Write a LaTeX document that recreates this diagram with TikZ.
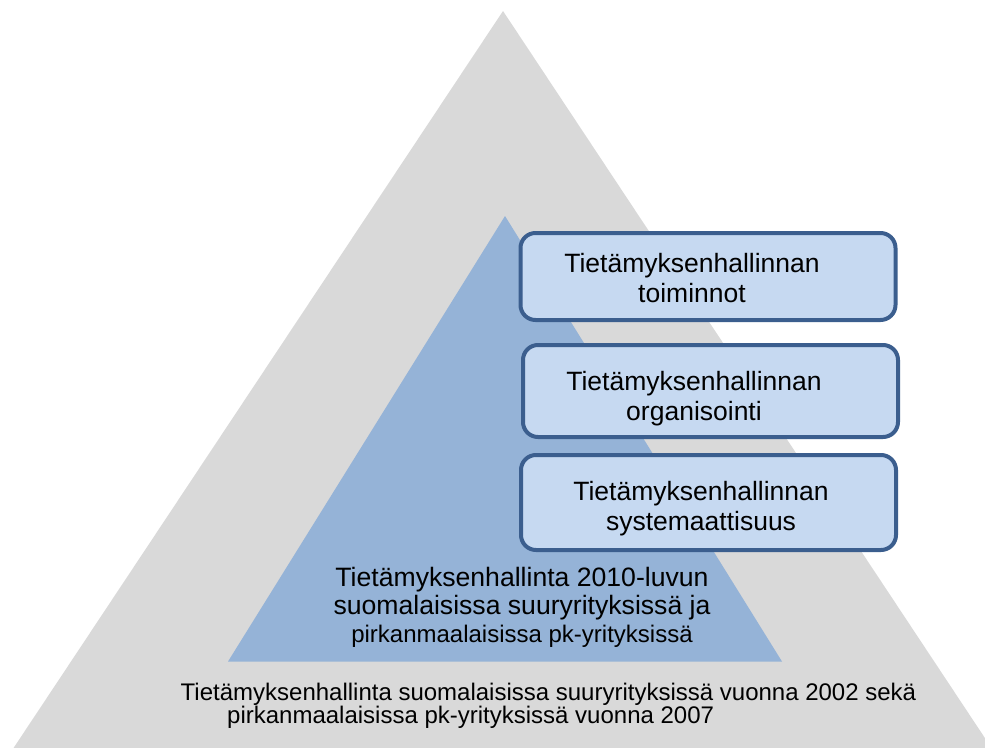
\documentclass[tikz,border=0pt]{standalone}
\usepackage{fontspec}
\setmainfont{Liberation Sans}

\definecolor{pyramidGray}{HTML}{D9D9D9}
\definecolor{pyramidBlue}{HTML}{95B3D7}
\definecolor{boxFill}{HTML}{C6D9F1}
\definecolor{boxBorder}{HTML}{3B5E8E}

\begin{document}
\begin{tikzpicture}[%
    x=1pt,
    y=-1pt,
    levelBox/.style={%
        draw=boxBorder,
        fill=boxFill,
        line width=4pt,
        rounded corners=15pt,
        minimum width=375pt,
        inner sep=0pt
    },
    boxText/.style={%
        align=center,
        anchor=base,
        inner sep=0pt,
        font=\fontsize{26.5}{29.5}\selectfont
    },
    innerText/.style={%
        align=center,
        anchor=base,
        inner sep=0pt,
        font=\fontsize{26.6}{28}\selectfont
    },
    outerText/.style={%
        align=left,
        anchor=base west,
        inner sep=0pt,
        font=\fontsize{24}{23.5}\selectfont
    }
]

\useasboundingbox (0,0) rectangle (985,747);

% Outer pyramid
\begin{scope}
    \clip (0,0) rectangle (985,747);
    \fill[pyramidGray] (503,11) -- (1026,800) -- (-21,800) -- cycle;
\end{scope}

% Inner pyramid
    \fill[pyramidBlue] (505,216) -- (782,661.5) -- (228,661.5) -- cycle;

% Levels
    \node[levelBox, minimum height=87pt] (toiminnot) at (708,276.5) {};
    \node[levelBox, minimum height=92pt] (organisointi) at (710.5,391) {};
    \node[levelBox, minimum height=95pt] (systemaattisuus) at (708.5,502.5) {};

    \node[boxText] (toiminnotText) at (692,302) {Tietämyksenhallinnan\\toiminnot};
    \node[boxText] (organisointiText) at (694,420) {Tietämyksenhallinnan\\organisointi};
    \node[boxText] (systemaattisuusText) at (701,530) {Tietämyksenhallinnan\\systemaattisuus};

% Pyramid texts
    \node[innerText] (innerLabel) at (522,642) {Tietämyksenhallinta 2010-luvun\\suomalaisissa suuryrityksissä ja\\{\fontsize{24}{27}\selectfont pirkanmaalaisissa pk-yrityksissä}};
    \node[outerText] (outerLabel) at (180.5,723.5) {Tietämyksenhallinta suomalaisissa suuryrityksissä vuonna 2002 sekä\\\hspace*{46.5pt}pirkanmaalaisissa pk-yrityksissä vuonna 2007};

\end{tikzpicture}
\end{document}
